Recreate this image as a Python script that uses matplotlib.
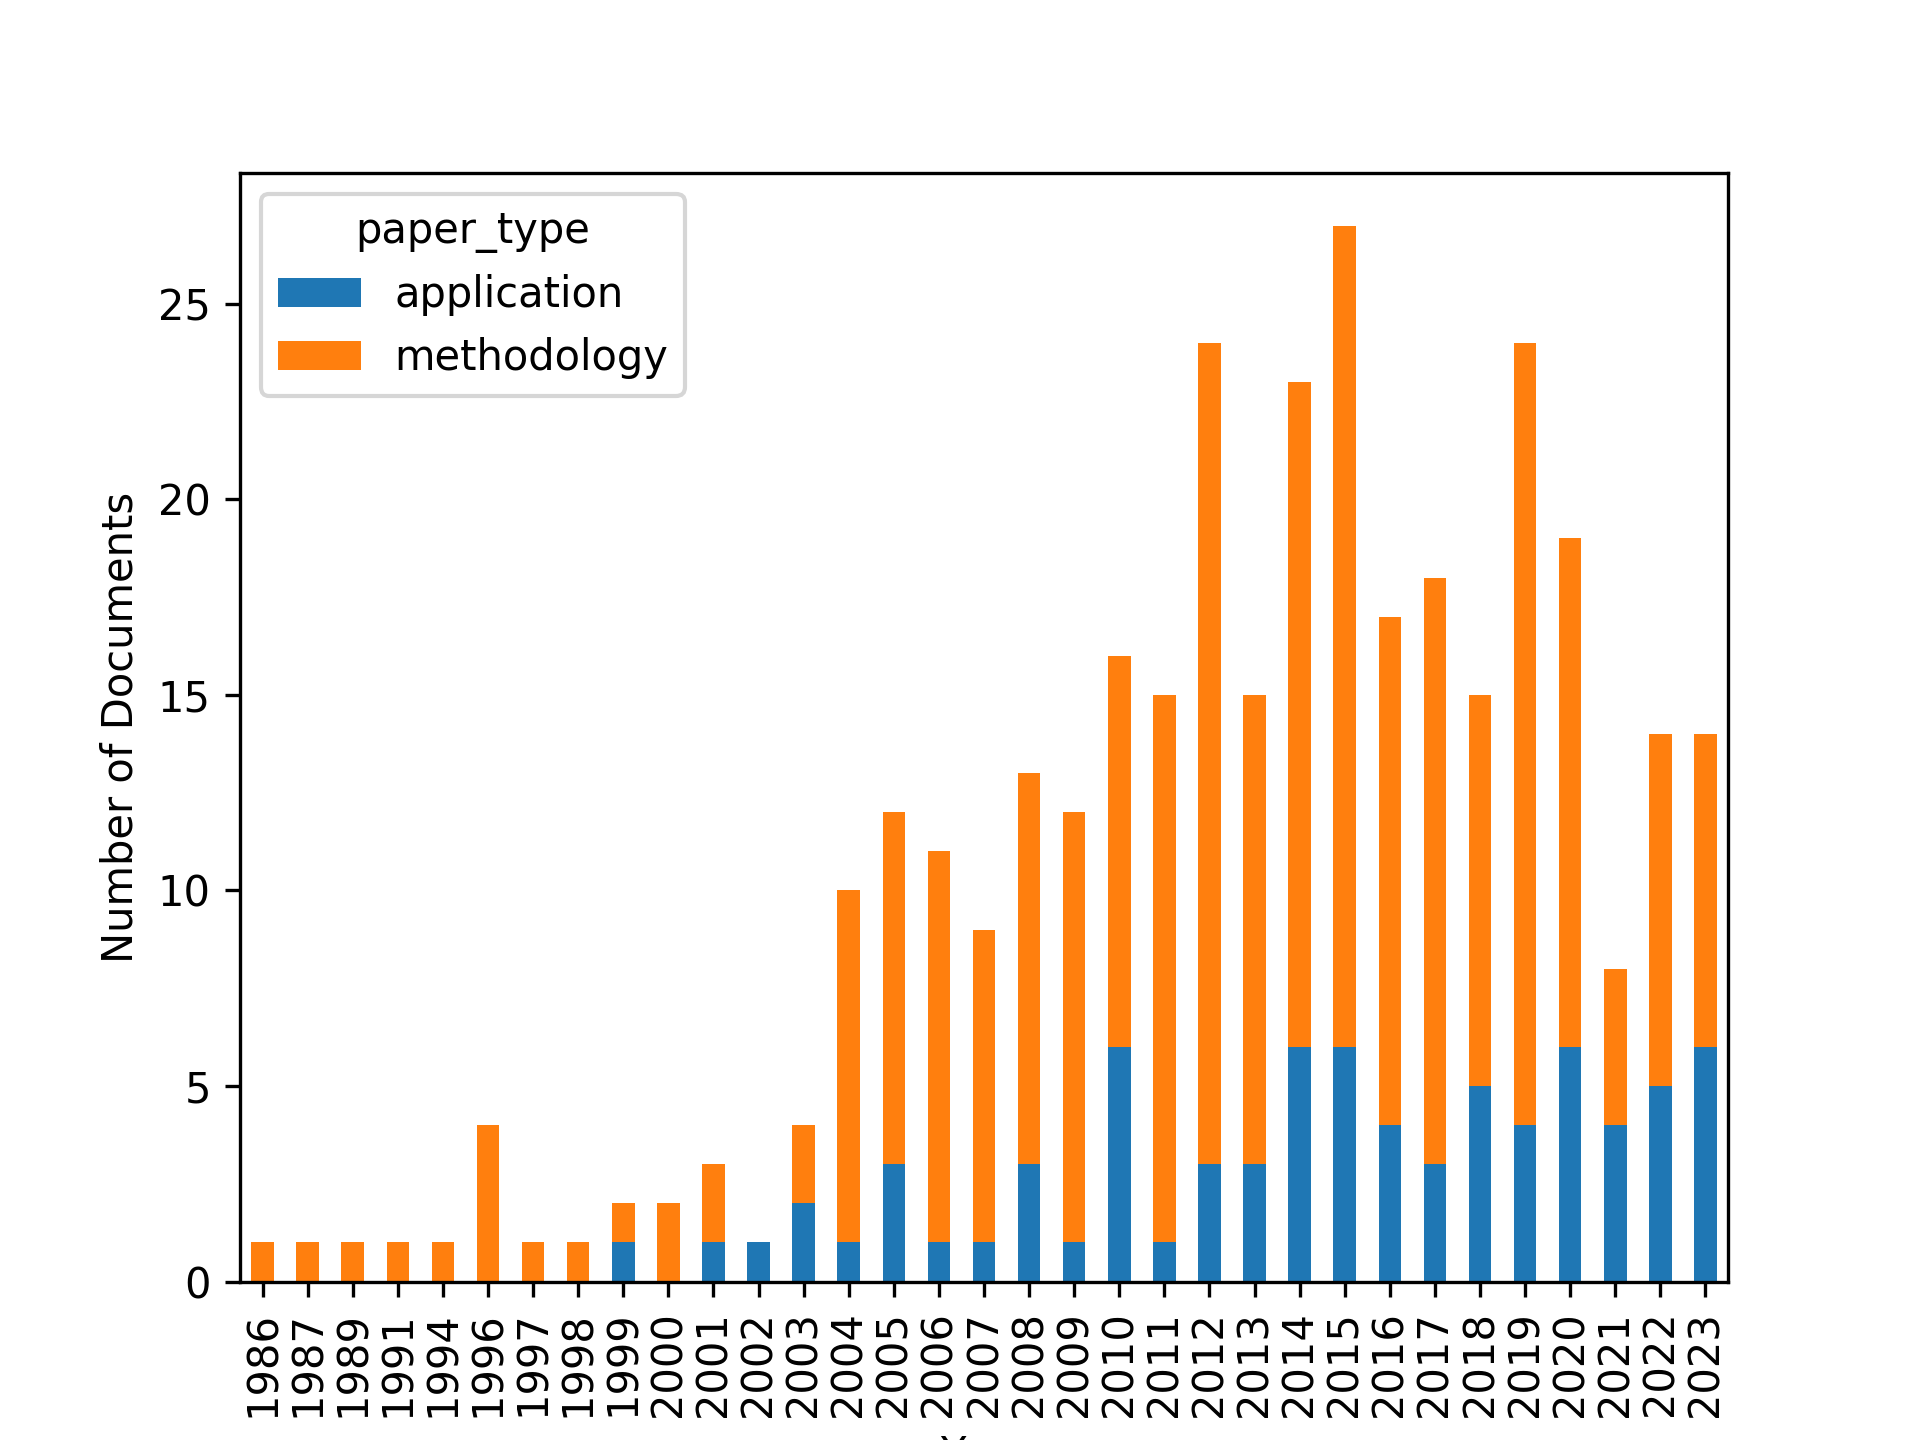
import matplotlib
matplotlib.use("Agg")
import matplotlib.pyplot as plt
import pandas as pd

years = [1986, 1987, 1989, 1991, 1994, 1996, 1997, 1998, 1999, 2000, 2001, 2002, 2003,
         2004, 2005, 2006, 2007, 2008, 2009, 2010, 2011, 2012, 2013, 2014, 2015, 2016,
         2017, 2018, 2019, 2020, 2021, 2022, 2023]
application = [0, 0, 0, 0, 0, 0, 0, 0, 1, 0, 1, 1, 2, 1, 3, 1, 1, 3, 1, 6, 1, 3, 3, 6,
               6, 4, 3, 5, 4, 6, 4, 5, 6]
methodology = [1, 1, 1, 1, 1, 4, 1, 1, 1, 2, 2, 0, 2, 9, 9, 10, 8, 10, 11, 10, 14, 21,
               12, 17, 21, 13, 15, 10, 20, 13, 4, 9, 8]

df = pd.DataFrame({"application": application, "methodology": methodology},
                  index=pd.Index(years, name="Year"))
df.columns.name = "paper_type"

fig, ax = plt.subplots(figsize=(6.4, 4.8), dpi=300)
df.plot(kind="bar", stacked=True, ax=ax)
ax.set_ylabel("Number of Documents")
ax.set_xlabel("Year")
fig.savefig("out.png", dpi=300)
